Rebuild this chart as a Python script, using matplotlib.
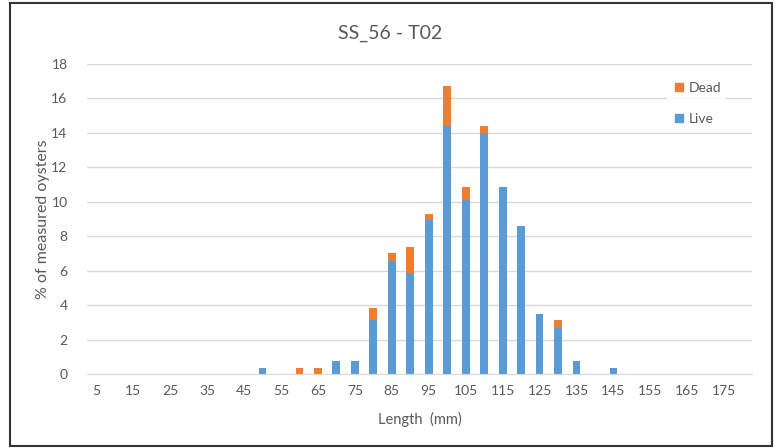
import matplotlib
matplotlib.use("Agg")
from matplotlib import pyplot as plt
from matplotlib.patches import Rectangle
from matplotlib.lines import Line2D
import numpy as np

plt.rcParams['font.family'] = ['Lato', 'DejaVu Sans']

# length classes (mm), 5 to 180 step 5
lengths = [5, 10, 15, 20, 25, 30, 35, 40, 45, 50, 55, 60, 65, 70, 75, 80, 85, 90,
           95, 100, 105, 110, 115, 120, 125, 130, 135, 140, 145, 150, 155, 160,
           165, 170, 175, 180]
live = [0, 0, 0, 0, 0, 0, 0, 0, 0, 0.37, 0, 0, 0, 0.73, 0.73, 3.14, 6.58, 5.86,
        8.94, 14.40, 10.12, 14.01, 10.84, 8.57, 3.47, 2.69, 0.75, 0, 0.37, 0, 0, 0,
        0, 0, 0, 0]
dead = [0, 0, 0, 0, 0, 0, 0, 0, 0, 0, 0, 0.37, 0.37, 0, 0, 0.71, 0.45, 1.51,
        0.35, 2.34, 0.72, 0.37, 0, 0, 0, 0.43, 0, 0, 0, 0, 0, 0,
        0, 0, 0, 0]
tick_labels = [str(v) if i % 2 == 0 else "" for i, v in enumerate(lengths)]

blue = "#5B9BD5"
orange = "#ED7D31"
txt = "#595959"

fig = plt.figure(figsize=(7.75, 4.48), dpi=100)
ax = fig.add_axes([87/775, 1-374/448, (752-87)/775, (374-64)/448])

x = np.arange(len(lengths))
ax.bar(x, live, width=0.42, color=blue, zorder=2)
ax.bar(x, dead, width=0.42, bottom=live, color=orange, zorder=2)

ax.set_xlim(-0.5, len(lengths) - 0.5)
ax.set_ylim(0, 18)
ax.set_yticks(np.arange(0, 19, 2))
ax.set_xticks(x)
ax.set_xticklabels(tick_labels)
ax.tick_params(length=0, colors=txt, labelsize=10)
ax.tick_params(axis='x', pad=8)
ax.tick_params(axis='y', pad=14)
ax.grid(axis='y', color="#D9D9D9", linewidth=1, zorder=0)
for s in ["top", "right", "left"]:
    ax.spines[s].set_visible(False)
ax.spines["bottom"].set_color("#D9D9D9")

ax.set_xlabel("Length  (mm)", color=txt, fontsize=10.5, labelpad=11)
ax.set_ylabel("% of measured oysters", color=txt, fontsize=11.5, labelpad=1)
fig.text(390/775, 1-33/448, "SS_56 - T02", ha="center", va="center",
         color=txt, fontsize=14)

handles = [Line2D([], [], marker="s", linestyle="", color=orange, markersize=6),
           Line2D([], [], marker="s", linestyle="", color=blue, markersize=6)]
leg = fig.legend(handles, ["Dead", "Live"], loc="upper left",
                 bbox_to_anchor=(660/775, 1-71/448), frameon=True,
                 fontsize=10, labelspacing=1.35, handletextpad=0.1,
                 handlelength=1.2, borderpad=0.3)
leg.get_frame().set_edgecolor("none")
leg.get_frame().set_facecolor("white")
for t in leg.get_texts():
    t.set_color(txt)

fig.patches.append(Rectangle((10/775, 2/448), 762/775, 443/448, transform=fig.transFigure,
                             fill=False, edgecolor="#333333", linewidth=1.5))

fig.savefig("out.png", dpi=100)
